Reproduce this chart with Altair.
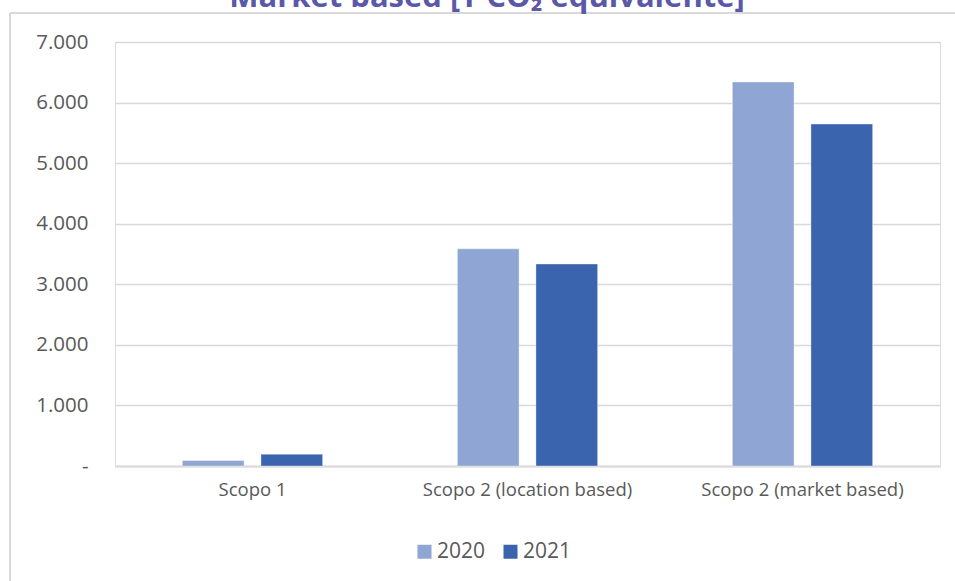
import altair as alt
import pandas as pd

categories = ["Scopo 1", "Scopo 2 (location based)", "Scopo 2 (market based)"]
years = ["2020", "2021"]
values_2020 = [90, 3585, 6340]
values_2021 = [195, 3335, 5645]
y_ticks = [0, 1000, 2000, 3000, 4000, 5000, 6000, 7000]
title_text = "Market based [T CO₂ equivalente]"

rows = []
for c, v0, v1 in zip(categories, values_2020, values_2021):
    rows.append({"cat": c, "year": "2020", "value": v0})
    rows.append({"cat": c, "year": "2021", "value": v1})
df = pd.DataFrame(rows)

FONT = "Open Sans"
TXT = "#595959"

bars = alt.Chart(df).mark_bar(stroke="white", strokeWidth=0.6, strokeOpacity=0.6).encode(
    x=alt.X("cat:N", sort=categories, title=None,
            scale=alt.Scale(paddingInner=0.49, paddingOuter=0.245),
            axis=alt.Axis(labelAngle=0, domain=True, domainColor="#D9D9D9", domainWidth=2,
                          ticks=False, labelFontSize=18.5, labelColor=TXT, labelFont=FONT,
                          labelPadding=14, grid=False, labelLimit=0)),
    xOffset=alt.XOffset("year:N", sort=years, scale=alt.Scale(paddingInner=0.215, paddingOuter=0)),
    y=alt.Y("value:Q", title=None,
            scale=alt.Scale(domain=[0, 7000], nice=False),
            axis=alt.Axis(values=y_ticks, domain=False, ticks=False,
                          labelFontSize=20.5, labelColor=TXT, labelFont=FONT,
                          labelPadding=27, gridColor="#D9D9D9", gridWidth=1.5,
                          labelExpr="datum.value == 0 ? '-' : replace(format(datum.value, ','), ',', '.')")),
    color=alt.Color("year:N", sort=years,
                    scale=alt.Scale(domain=years, range=["#8FA5D4", "#3A64AD"]),
                    legend=alt.Legend(title=None, orient="none", direction="horizontal",
                                      legendX=299, legendY=499, symbolType="square",
                                      symbolSize=196, symbolStrokeWidth=0,
                                      labelFontSize=21, labelColor=TXT, labelFont=FONT,
                                      columnPadding=14, labelOffset=2)),
)

title = alt.Chart(pd.DataFrame({"t": [title_text]})).mark_text(
    font=FONT, fontSize=31, fontWeight="bold", color="#5B58A8",
    align="center", baseline="alphabetic"
).encode(text="t:N", x=alt.value(372), y=alt.value(-35))

border = alt.Chart(df).mark_rule(color="#D9D9D9", strokeWidth=2).encode(
    x=alt.value(-105), y=alt.value(-29), y2=alt.value(539)
)
border_top = alt.Chart(df).mark_rule(color="#D9D9D9", strokeWidth=2).encode(
    x=alt.value(-105), x2=alt.value(840), y=alt.value(-29)
)

chart = alt.layer(bars, border, border_top, title).properties(
    width=825, height=424,
    padding={"left": 115, "top": 42, "right": 15, "bottom": 115},
    autosize=alt.AutoSizeParams(type="none"),
).configure_view(stroke=None).configure(background="white")

chart.save("out.html", embed_options={"renderer": "svg", "actions": False})
